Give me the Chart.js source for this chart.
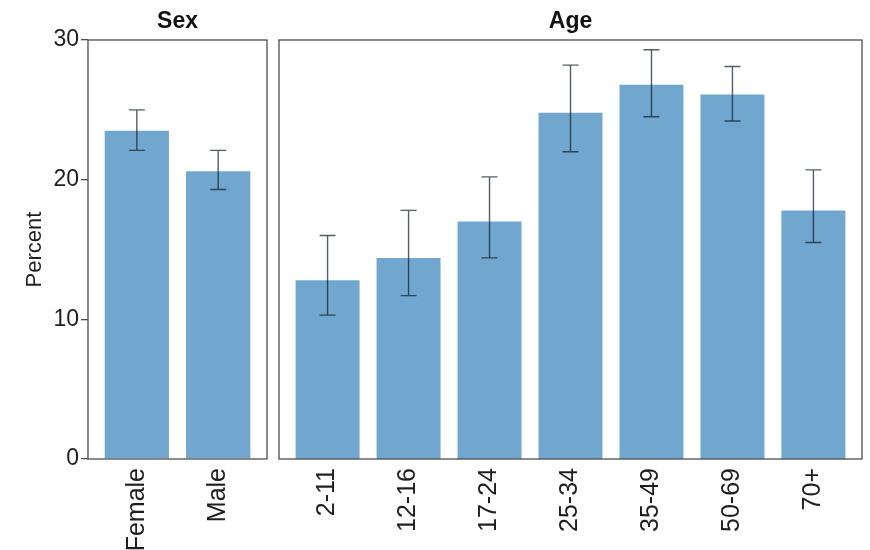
<!DOCTYPE html>
<html>
<head>
<meta charset="utf-8">
<script src="https://cdn.jsdelivr.net/npm/chart.js@4.4.1/dist/chart.umd.min.js"></script>
<style>
  body { margin: 0; background: #fff; }
  .wrap { position: relative; width: 870px; height: 550px; overflow: hidden; }
  .panel { position: absolute; top: 0; height: 550px; }
  #sexPanel { left: 0; width: 272px; }
  #agePanel { left: 272px; width: 598px; }
</style>
</head>
<body>
<div class="wrap">
  <div class="panel" id="sexPanel"><canvas id="sexChart"></canvas></div>
  <div class="panel" id="agePanel"><canvas id="ageChart"></canvas></div>
</div>
<script>
const sexLabels = ["Female", "Male"];
const sexValues = [23.5, 20.6];
const sexLow = [22.1, 19.3];
const sexHigh = [25.0, 22.1];

const ageLabels = ["2-11", "12-16", "17-24", "25-34", "35-49", "50-69", "70+"];
const ageValues = [12.8, 14.4, 17.0, 24.8, 26.8, 26.1, 17.8];
const ageLow = [10.3, 11.7, 14.4, 22.0, 24.5, 24.2, 15.5];
const ageHigh = [16.0, 17.8, 20.2, 28.2, 29.3, 28.1, 20.7];

const yTicks = [0, 10, 20, 30];

const FONT = "'Liberation Sans', Arial, sans-serif";
const barColor = "#71a7ce";
const frameColor = "#4d4d4d";
const textColor = "#1e1e1e";

// box around the plot area, like a ggplot panel border
const framePlugin = {
  id: "frame",
  afterDraw(chart) {
    const { ctx, chartArea: a } = chart;
    ctx.save();
    ctx.strokeStyle = frameColor;
    ctx.lineWidth = 1.3;
    ctx.strokeRect(a.left, a.top, a.right - a.left, a.bottom - a.top);
    ctx.restore();
  },
};

// error bars read from dataset.errLow / dataset.errHigh
const errorBarPlugin = {
  id: "errorBars",
  afterDatasetsDraw(chart) {
    const { ctx } = chart;
    const yScale = chart.scales.y;
    chart.data.datasets.forEach((ds, di) => {
      const meta = chart.getDatasetMeta(di);
      meta.data.forEach((bar, i) => {
        const x = bar.x;
        const top = yScale.getPixelForValue(ds.errHigh[i]);
        const bottom = yScale.getPixelForValue(ds.errLow[i]);
        const half = 8;
        ctx.save();
        ctx.strokeStyle = "rgba(20, 30, 40, 0.72)";
        ctx.lineWidth = 1.4;
        ctx.beginPath();
        ctx.moveTo(x, top);
        ctx.lineTo(x, bottom);
        ctx.moveTo(x - half, top);
        ctx.lineTo(x + half, top);
        ctx.moveTo(x - half, bottom);
        ctx.lineTo(x + half, bottom);
        ctx.stroke();
        ctx.restore();
      });
    });
  },
};

function makePanel(canvasId, title, labels, values, low, high, showY, padding) {
  const ctx = document.getElementById(canvasId).getContext("2d");
  return new Chart(ctx, {
    type: "bar",
    data: {
      datasets: [
        {
          data: values.map((v, i) => ({ x: i + 1, y: v })),
          errLow: low,
          errHigh: high,
          backgroundColor: barColor,
          borderWidth: 0,
          barPercentage: 0.79,
          categoryPercentage: 1,
        },
      ],
    },
    options: {
      responsive: true,
      maintainAspectRatio: false,
      animation: false,
      layout: { padding: padding },
      plugins: {
        legend: { display: false },
        tooltip: { enabled: false },
        title: {
          display: true,
          text: title,
          fullSize: false,
          color: "#111",
          font: { family: FONT, size: 23, weight: "bold" },
          padding: { top: 8, bottom: 4.4 },
        },
      },
      scales: {
        x: {
          type: "linear",
          offset: false,
          min: 0.4,
          max: labels.length + 0.6,
          grid: { display: false, drawTicks: false },
          border: { display: false },
          afterBuildTicks: (axis) => {
            axis.ticks = labels.map((_, i) => ({ value: i + 1 }));
          },
          afterFit: (axis) => {
            axis.height = 91;
          },
          ticks: {
            autoSkip: false,
            minRotation: 90,
            maxRotation: 90,
            padding: 9,
            color: textColor,
            font: { family: FONT, size: 25 },
            callback: (value) => labels[value - 1],
          },
        },
        y: {
          display: showY,
          min: 0,
          max: 30,
          afterBuildTicks: (axis) => {
            axis.ticks = yTicks.map((v) => ({ value: v }));
          },
          afterFit: (axis) => {
            if (showY) axis.width = 88;
          },
          grid: {
            drawOnChartArea: false,
            drawTicks: true,
            tickLength: 7,
            color: frameColor,
            lineWidth: 1.3,
          },
          border: { display: false },
          ticks: {
            padding: 2,
            color: textColor,
            font: { family: FONT, size: 23 },
          },
          title: {
            display: true,
            text: "Percent",
            color: textColor,
            font: { family: FONT, size: 22 },
            padding: { top: 22, bottom: 0 },
          },
        },
      },
    },
    plugins: [framePlugin, errorBarPlugin],
  });
}

makePanel("sexChart", "Sex", sexLabels, sexValues, sexLow, sexHigh, true, { left: 0, right: 5, top: 0, bottom: 0 });
makePanel("ageChart", "Age", ageLabels, ageValues, ageLow, ageHigh, false, { left: 7, right: 8, top: 0, bottom: 0 });
</script>
</body>
</html>
